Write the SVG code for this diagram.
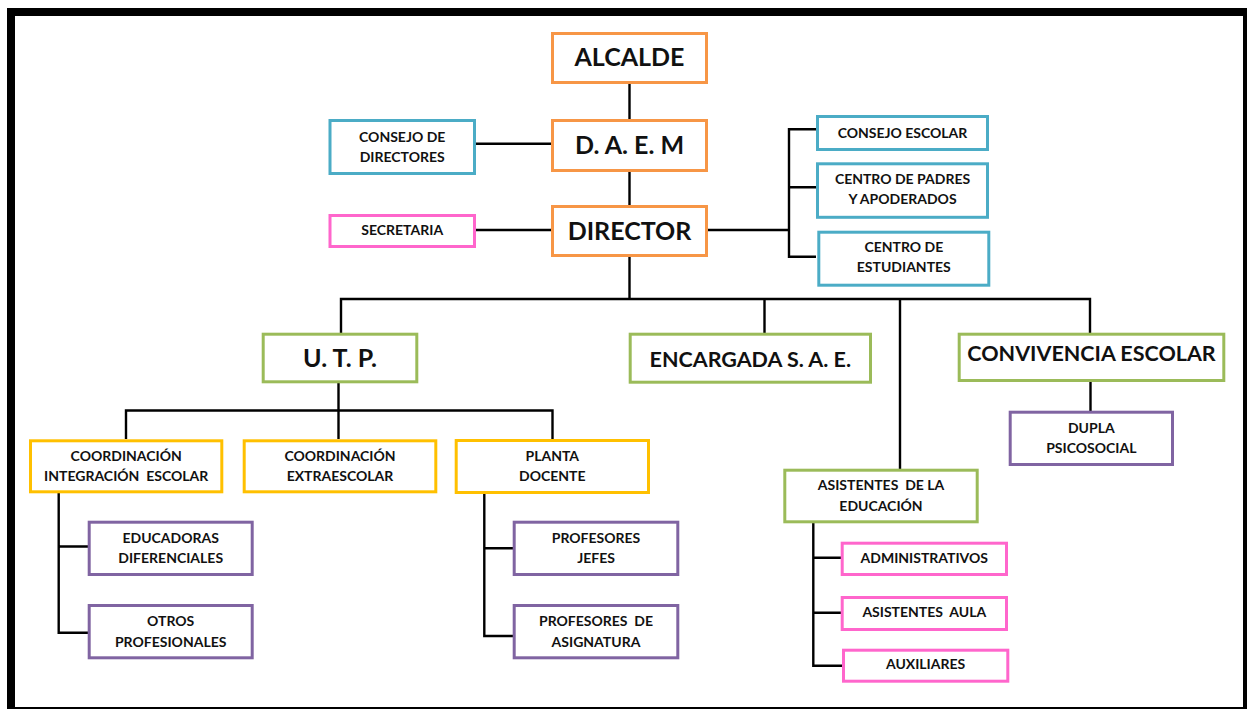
<svg xmlns="http://www.w3.org/2000/svg" width="1247" height="709" viewBox="0 0 1247 709">
<style>
.box{fill:#fff;stroke-width:3}
.o{stroke:#F79646}.b{stroke:#4BACC6}.p{stroke:#FF66CC}.g{stroke:#9BBB59}.y{stroke:#FFC000}.v{stroke:#8064A2}
text{font-family:Lato,"Open Sans","Liberation Sans",sans-serif;font-weight:bold;fill:#111;text-anchor:middle;white-space:pre}
.L{font-size:25px}.M{font-size:21.5px}.S{font-size:14px}
#connectors path{fill:none;stroke:#000;stroke-width:2.4}
</style>
<rect x="11" y="12" width="1236" height="699" fill="#fff" stroke="#000" stroke-width="8"/>
<g id="connectors">
<path d="M629.5 84V119M629.5 172V205M629.5 257V299"/>
<path d="M341 333V299H1090V333M764.5 299V333M900 299V469"/>
<path d="M476 143.7H551M476 230H551"/>
<path d="M708 230H789M816 129.3H789V256.7H816M789 187.3H816"/>
<path d="M338.5 383V439M126 439V410.5H552.5V439"/>
<path d="M58.7 493V632.7H88M58.7 546.5H88"/>
<path d="M484.3 494V636H513M484.3 548.3H513"/>
<path d="M813.3 523V665.7H842M813.3 557.7H841M813.3 612.7H841"/>
<path d="M1090.5 382V411"/>
</g>
<g id="alcalde"><rect class="box o" x="552.5" y="33.5" width="154" height="49"/><text class="L" x="629.5" y="66">ALCALDE</text></g>
<g id="daem"><rect class="box o" x="552.5" y="120.5" width="154" height="50"/><text class="L" x="629.5" y="154">D. A. E. M</text></g>
<g id="director"><rect class="box o" x="552.5" y="206.5" width="154" height="49"/><text class="L" x="629.5" y="239.5">DIRECTOR</text></g>
<g id="consejo-directores"><rect class="box b" x="330" y="120.5" width="144.5" height="53"/><text class="S" x="402.2" y="141.7">CONSEJO DE</text><text class="S" x="402.2" y="162.3">DIRECTORES</text></g>
<g id="secretaria"><rect class="box p" x="330" y="215.5" width="144.5" height="31"/><text class="S" x="402.2" y="235">SECRETARIA</text></g>
<g id="consejo-escolar"><rect class="box b" x="817.5" y="116.5" width="170" height="33"/><text class="S" x="902.5" y="137.7">CONSEJO ESCOLAR</text></g>
<g id="centro-padres"><rect class="box b" x="817.5" y="163.8" width="170" height="53.5"/><text class="S" x="902.5" y="184">CENTRO DE PADRES</text><text class="S" x="902.5" y="204.3">Y APODERADOS</text></g>
<g id="centro-estudiantes"><rect class="box b" x="818.8" y="232.2" width="170" height="53"/><text class="S" x="903.8" y="251.7">CENTRO DE</text><text class="S" x="903.8" y="272.3">ESTUDIANTES</text></g>
<g id="utp"><rect class="box g" x="263.2" y="334.2" width="153.6" height="47.6"/><text class="L" x="340" y="366.7">U. T. P.</text></g>
<g id="encargada"><rect class="box g" x="630.2" y="334.2" width="240.3" height="48"/><text class="M" x="750.3" y="367.3">ENCARGADA S. A. E.</text></g>
<g id="convivencia"><rect class="box g" x="959.2" y="334.2" width="264.6" height="46.3"/><text class="M" x="1091.5" y="360.7">CONVIVENCIA ESCOLAR</text></g>
<g id="coord-integracion"><rect class="box y" x="30.5" y="440.8" width="191.3" height="51"/><text class="S" x="126.2" y="461">COORDINACIÓN</text><text class="S" x="126.2" y="481.3">INTEGRACIÓN  ESCOLAR</text></g>
<g id="coord-extraescolar"><rect class="box y" x="244.2" y="440.8" width="191.6" height="51"/><text class="S" x="340" y="461">COORDINACIÓN</text><text class="S" x="340" y="481.3">EXTRAESCOLAR</text></g>
<g id="planta-docente"><rect class="box y" x="456.2" y="440.5" width="192.3" height="52"/><text class="S" x="552.3" y="461">PLANTA</text><text class="S" x="552.3" y="481.3">DOCENTE</text></g>
<g id="educadoras"><rect class="box v" x="89.2" y="522.2" width="163" height="52.3"/><text class="S" x="170.7" y="543">EDUCADORAS</text><text class="S" x="170.7" y="563.3">DIFERENCIALES</text></g>
<g id="otros"><rect class="box v" x="89.2" y="605.5" width="163" height="52.3"/><text class="S" x="170.7" y="626.3">OTROS</text><text class="S" x="170.7" y="646.7">PROFESIONALES</text></g>
<g id="profesores-jefes"><rect class="box v" x="514.2" y="522.2" width="163.6" height="52.3"/><text class="S" x="596" y="543">PROFESORES</text><text class="S" x="596" y="563.3">JEFES</text></g>
<g id="profesores-asignatura"><rect class="box v" x="514.2" y="605.5" width="163.6" height="52.3"/><text class="S" x="596" y="626.3">PROFESORES  DE</text><text class="S" x="596" y="646.7">ASIGNATURA</text></g>
<g id="asistentes-educacion"><rect class="box g" x="784.8" y="470.2" width="192.4" height="51.6"/><text class="S" x="881" y="490">ASISTENTES  DE LA</text><text class="S" x="881" y="510.7">EDUCACIÓN</text></g>
<g id="administrativos"><rect class="box p" x="842.2" y="543.2" width="164.3" height="31.3"/><text class="S" x="924.3" y="563.3">ADMINISTRATIVOS</text></g>
<g id="asistentes-aula"><rect class="box p" x="842.2" y="597.5" width="164.3" height="32"/><text class="S" x="924.3" y="617.3">ASISTENTES  AULA</text></g>
<g id="auxiliares"><rect class="box p" x="843.5" y="650.2" width="164.3" height="31"/><text class="S" x="925.6" y="669.3">AUXILIARES</text></g>
<g id="dupla"><rect class="box v" x="1010.2" y="412.2" width="162.3" height="52.3"/><text class="S" x="1091.3" y="432.7">DUPLA</text><text class="S" x="1091.3" y="453.3">PSICOSOCIAL</text></g>
</svg>
